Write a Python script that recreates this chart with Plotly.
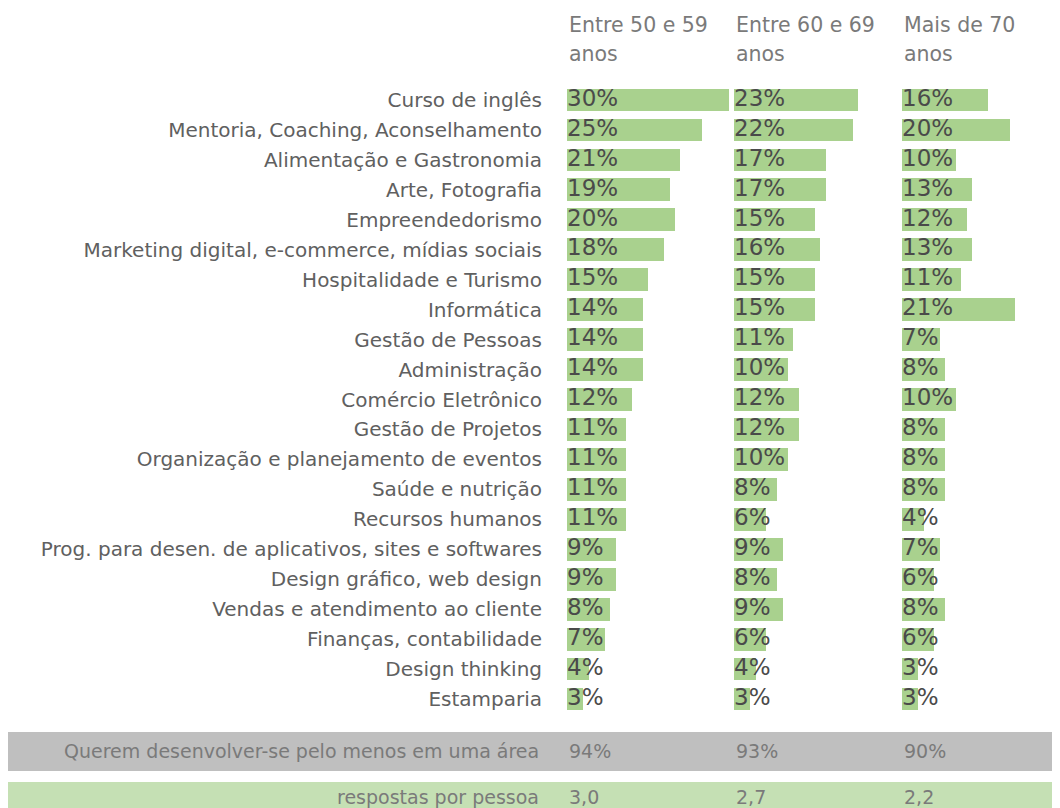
import plotly.graph_objects as go

categories = [
    "Curso de inglês", "Mentoria, Coaching, Aconselhamento", "Alimentação e Gastronomia",
    "Arte, Fotografia", "Empreendedorismo", "Marketing digital, e-commerce, mídias sociais",
    "Hospitalidade e Turismo", "Informática", "Gestão de Pessoas", "Administração",
    "Comércio Eletrônico", "Gestão de Projetos", "Organização e planejamento de eventos",
    "Saúde e nutrição", "Recursos humanos",
    "Prog. para desen. de aplicativos, sites e softwares", "Design gráfico, web design",
    "Vendas e atendimento ao cliente", "Finanças, contabilidade", "Design thinking", "Estamparia",
]
age_groups = ["Entre 50 e 59<br>anos", "Entre 60 e 69<br>anos", "Mais de 70<br>anos"]
v_50_59 = [30, 25, 21, 19, 20, 18, 15, 14, 14, 14, 12, 11, 11, 11, 11, 9, 9, 8, 7, 4, 3]
v_60_69 = [23, 22, 17, 17, 15, 16, 15, 15, 11, 10, 12, 12, 10, 8, 6, 9, 8, 9, 6, 4, 3]
v_70_plus = [16, 20, 10, 13, 12, 13, 11, 21, 7, 8, 10, 8, 8, 8, 4, 7, 6, 8, 6, 3, 3]
summary_label_1 = "Querem desenvolver-se pelo menos em uma área"
summary_values_1 = ["94%", "93%", "90%"]
summary_label_2 = "respostas por pessoa"
summary_values_2 = ["3,0", "2,7", "2,2"]

# page has an 8px body margin; work in page pixels and convert
OFF = 8
W, H = 1060 - OFF, 808 - OFF


def px(x):
    return (x - OFF) / W


def py(y):
    return 1 - (y - OFF) / H


PX_PER_PCT = 5.4
BAR_COLOR = "#a9d18e"
FONT = "DejaVu Sans, Open Sans, sans-serif"

col_px = [(567, 729), (734, 896), (902, 1060)]
series = [v_50_59, v_60_69, v_70_plus]
axis_ids = ["x", "x2", "x3"]

fig = go.Figure()
for i, vals in enumerate(series):
    ax = axis_ids[i]
    fig.add_trace(go.Bar(
        y=categories, x=vals, orientation="h", xaxis=ax, yaxis="y",
        marker=dict(color=BAR_COLOR, line=dict(width=0)), width=0.76,
        hoverinfo="skip", showlegend=False,
    ))
    fig.add_trace(go.Scatter(
        y=categories, x=[0] * len(vals), xaxis=ax, yaxis="y", mode="text",
        text=[f"{v}%" for v in vals], textposition="middle right",
        textfont=dict(family=FONT, size=23, color="#4a4a4a"),
        hoverinfo="skip", showlegend=False, cliponaxis=False,
    ))

layout = dict(
    width=W, height=H, margin=dict(l=0, r=0, t=0, b=0),
    plot_bgcolor="white", paper_bgcolor="white", bargap=0,
    yaxis=dict(
        type="category", categoryorder="array", categoryarray=categories,
        range=[len(categories) - 0.5, -0.5],
        domain=[py(714), py(85)], anchor="x",
        showgrid=False, zeroline=False, showline=False, ticks="",
        ticklabelstandoff=24,
        tickfont=dict(family=FONT, size=20, color="#606060"),
    ),
)
for i, (a, b) in enumerate(col_px):
    key = "xaxis" if i == 0 else f"xaxis{i + 1}"
    layout[key] = dict(
        domain=[px(a), min(px(b), 1)], range=[0, (b - a) / PX_PER_PCT], anchor="y",
        visible=False, showgrid=False, zeroline=False, fixedrange=True,
    )
fig.update_layout(**layout)

# column headers (two lines each)
for i, (a, b) in enumerate(col_px):
    for j, line in enumerate(age_groups[i].split("<br>")):
        fig.add_annotation(
            xref="paper", yref="paper", x=px(a), y=py(25 + 29 * j),
            xanchor="left", yanchor="middle", align="left", showarrow=False,
            text=line, font=dict(family=FONT, size=20.5, color="#7a7a7a"),
        )

# summary bands
fig.add_shape(type="rect", xref="paper", yref="paper",
              x0=0, x1=1, y0=py(771), y1=py(732),
              fillcolor="#bfbfbf", line=dict(width=0), layer="below")
fig.add_shape(type="rect", xref="paper", yref="paper",
              x0=0, x1=1, y0=0, y1=py(782),
              fillcolor="#c5e0b4", line=dict(width=0), layer="below")

for label, vals, yc in [(summary_label_1, summary_values_1, 751),
                        (summary_label_2, summary_values_2, 797)]:
    fig.add_annotation(
        xref="paper", yref="paper", x=px(541), y=py(yc),
        xanchor="right", yanchor="middle", showarrow=False, text=label,
        font=dict(family=FONT, size=19, color="#7a7a7a"),
    )
    for i, v in enumerate(vals):
        fig.add_annotation(
            xref=f"{axis_ids[i]} domain", yref="paper", x=0, y=py(yc),
            xanchor="left", yanchor="middle", showarrow=False, text=v,
            font=dict(family=FONT, size=19, color="#7a7a7a"),
        )

fig.write_html("out.html")
